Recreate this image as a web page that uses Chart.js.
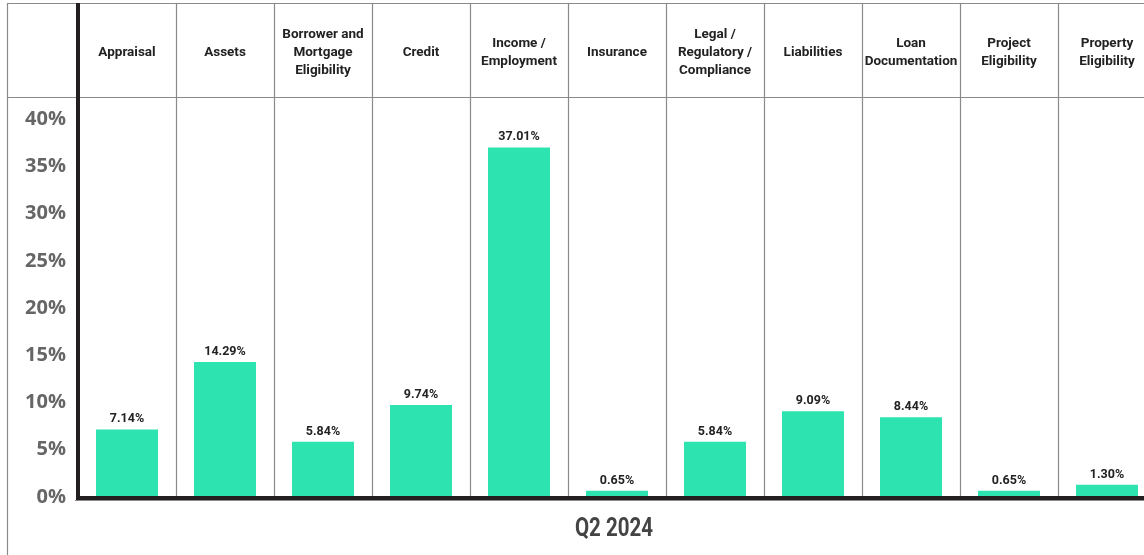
<!DOCTYPE html>
<html>
<head>
<meta charset="utf-8">
<script src="https://cdn.jsdelivr.net/npm/chart.js@4.4.1/dist/chart.umd.min.js"></script>
<style>
html,body{margin:0;padding:0;background:#fff;overflow:hidden;width:1144px;height:555px;}
canvas{display:block;}
</style>
</head>
<body>
<canvas id="c" width="1156" height="555"></canvas>
<script>
const categories = [
  ["Appraisal"],
  ["Assets"],
  ["Borrower and","Mortgage","Eligibility"],
  ["Credit"],
  ["Income /","Employment"],
  ["Insurance"],
  ["Legal /","Regulatory /","Compliance"],
  ["Liabilities"],
  ["Loan","Documentation"],
  ["Project","Eligibility"],
  ["Property","Eligibility"]
];
const values = [7.14, 14.29, 5.84, 9.74, 37.01, 0.65, 5.84, 9.09, 8.44, 0.65, 1.30];
const valueLabels = ["7.14%","14.29%","5.84%","9.74%","37.01%","0.65%","5.84%","9.09%","8.44%","0.65%","1.30%"];
const yTicks = [0,5,10,15,20,25,30,35,40];
const periodLabel = "Q2 2024";

const HEADER_TOP = 3;
const BAR_COLOR = '#2de3b0';

const tablePlugin = {
  id: 'tablePlugin',
  beforeDatasetsDraw(chart) {
    const ctx = chart.ctx;
    const x = chart.scales.x;
    const ca = chart.chartArea;
    const W = chart.width;
    ctx.save();
    ctx.strokeStyle = '#8a8a8a';
    ctx.lineWidth = 1.2;
    ctx.beginPath();
    ctx.moveTo(7.5, HEADER_TOP); ctx.lineTo(7.5, chart.height);
    ctx.moveTo(7, HEADER_TOP + 0.5); ctx.lineTo(W, HEADER_TOP + 0.5);
    ctx.moveTo(7, ca.top + 0.5); ctx.lineTo(W, ca.top + 0.5);
    for (let i = 1; i < categories.length; i++) {
      const bx = Math.round((x.getPixelForValue(i - 1) + x.getPixelForValue(i)) / 2) + 0.5;
      ctx.moveTo(bx, HEADER_TOP); ctx.lineTo(bx, ca.bottom);
    }
    ctx.moveTo(ca.left - 3, ca.bottom + 3.5); ctx.lineTo(W, ca.bottom + 3.5);
    ctx.stroke();

    ctx.fillStyle = '#222';
    ctx.font = 'bold 13.5px Roboto';
    ctx.textAlign = 'center';
    ctx.textBaseline = 'middle';
    const mid = (HEADER_TOP + ca.top) / 2 + 2.5;
    const lh = 18;
    categories.forEach((lines, i) => {
      const cx = x.getPixelForValue(i);
      const start = mid - (lines.length - 1) * lh / 2;
      lines.forEach((t, j) => ctx.fillText(t, cx, start + j * lh));
    });

    ctx.fillStyle = '#444';
    ctx.font = 'bold 25px Roboto';
    ctx.textBaseline = 'middle';
    const px = (ca.left + 1144) / 2 + 3;
    ctx.translate(px, 530);
    ctx.scale(0.82, 1);
    ctx.fillText(periodLabel, 0, 0);
    ctx.restore();
  },
  afterDatasetsDraw(chart) {
    const ctx = chart.ctx;
    const ca = chart.chartArea;
    const W = chart.width;
    ctx.save();
    ctx.fillStyle = '#231f20';
    ctx.fillRect(ca.left - 2, HEADER_TOP, 4, ca.bottom + 3 - HEADER_TOP);
    ctx.fillRect(ca.left - 2, ca.bottom - 1, W - ca.left + 2, 4);
    const meta = chart.getDatasetMeta(0);
    ctx.fillStyle = '#222';
    ctx.font = 'bold 12.5px Roboto';
    ctx.textAlign = 'center';
    ctx.textBaseline = 'bottom';
    meta.data.forEach((bar, i) => {
      ctx.fillText(valueLabels[i], bar.x, bar.y - 4);
    });
    ctx.restore();
  }
};

new Chart(document.getElementById('c'), {
  type: 'bar',
  data: {
    labels: categories.map(c => c.join(' ')),
    datasets: [{
      data: values,
      backgroundColor: BAR_COLOR,
      borderWidth: 0,
      categoryPercentage: 1,
      barPercentage: 0.633
    }]
  },
  options: {
    responsive: false,
    animation: false,
    devicePixelRatio: 1,
    layout: { padding: { top: 97, right: 0, left: 0, bottom: 0 } },
    plugins: { legend: { display: false }, tooltip: { enabled: false } },
    scales: {
      x: {
        position: 'bottom',
        grid: { display: false },
        border: { display: false },
        ticks: { display: false },
        afterFit(s) { s.height = 58; }
      },
      y: {
        min: 0,
        max: 42.35,
        grid: { display: false, drawTicks: false },
        border: { display: false },
        afterBuildTicks(s) { s.ticks = yTicks.map(v => ({ value: v })); },
        ticks: {
          padding: 12,
          color: '#666',
          font: { family: '"Open Sans"', size: 20, weight: 'bold' },
          callback: v => v + '%'
        },
        afterFit(s) { s.width = 78; }
      }
    }
  },
  plugins: [tablePlugin]
});
</script>
</body>
</html>
